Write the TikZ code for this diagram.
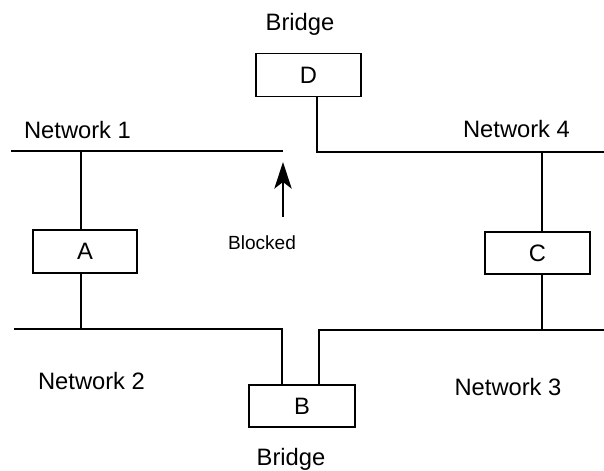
\documentclass[tikz,border=0pt]{standalone}
\usepackage{fontspec}
\setmainfont{Liberation Sans}
\usetikzlibrary{arrows.meta}

\tikzset{
  bridgebox/.style={draw, line width=1.1pt, inner sep=0pt,
    minimum width=78.75pt, minimum height=32pt,
    font=\fontsize{17.8}{20}\selectfont},
  label/.style={inner sep=0pt, font=\fontsize{17.8}{20}\selectfont},
  smalllabel/.style={inner sep=0pt, font=\fontsize{14.3}{17}\selectfont},
  bus/.style={line width=1.1pt, line cap=rect},
  tap/.style={line width=1.1pt}
}

\begin{document}
\begin{tikzpicture}[x={(0.75pt,0)}, y={(0,-0.75pt)}]
  \useasboundingbox (0,0) rectangle (604,471);

  % bridges and ports
  \node[bridgebox] (D) at (308.5,75) {D};
  \node[bridgebox, minimum width=78pt, minimum height=32.25pt] (A) at (85,251.5) {A};
  \node[bridgebox, minimum height=31.5pt] (C) at (537.5,253) {C};
  \node[bridgebox, minimum width=79.5pt, minimum height=31.5pt] (B) at (302,406) {B};

  % labels
  \node[label] (bridgeTop) at (300,24) {Bridge};
  \node[label] (bridgeBot) at (291,459) {Bridge};
  \node[label] (net1) at (77.5,130) {Network 1};
  \node[label] (net4) at (516.5,129) {Network 4};
  \node[label] (net2) at (91.5,381) {Network 2};
  \node[label] (net3) at (508,387) {Network 3};
  \node[smalllabel] (blocked) at (262,243) {Blocked};

  % bus end points and junctions
  \coordinate (n1L) at (12,151);
  \coordinate (n1R) at (282,151);
  \coordinate (n4L) at (317,152);
  \coordinate (n4R) at (604,152);
  \coordinate (n2L) at (15,329);
  \coordinate (n2R) at (282,329);
  \coordinate (n3L) at (319,330);
  \coordinate (n3R) at (604,330);
  \coordinate (tapA1) at (81,151);
  \coordinate (tapA2) at (81,329);
  \coordinate (tapC1) at (542,152);
  \coordinate (tapC2) at (542,330);
  \coordinate (arrowTail) at (283,217);
  \coordinate (arrowTip) at (283,162);

  % network segments
  \draw[bus] (n1L) -- (n1R);
  \draw[bus] (D.south -| n4L) -- (n4L) -- (n4R);
  \draw[bus] (n2L) -- (n2R) -- (B.north -| n2R);
  \draw[bus] (B.north -| n3L) -- (n3L) -- (n3R);

  % drops to the bridges A and C
  \draw[tap] (tapA1) -- (A.north -| tapA1);
  \draw[tap] (A.south -| tapA2) -- (tapA2);
  \draw[tap] (tapC1) -- (C.north -| tapC1);
  \draw[tap] (C.south -| tapC2) -- (tapC2);

  % blocked path marker
  \draw[line width=1.3pt, -{Stealth[length=20pt, width=13pt, inset=5pt]}]
    (arrowTail) -- (arrowTip);
\end{tikzpicture}
\end{document}
